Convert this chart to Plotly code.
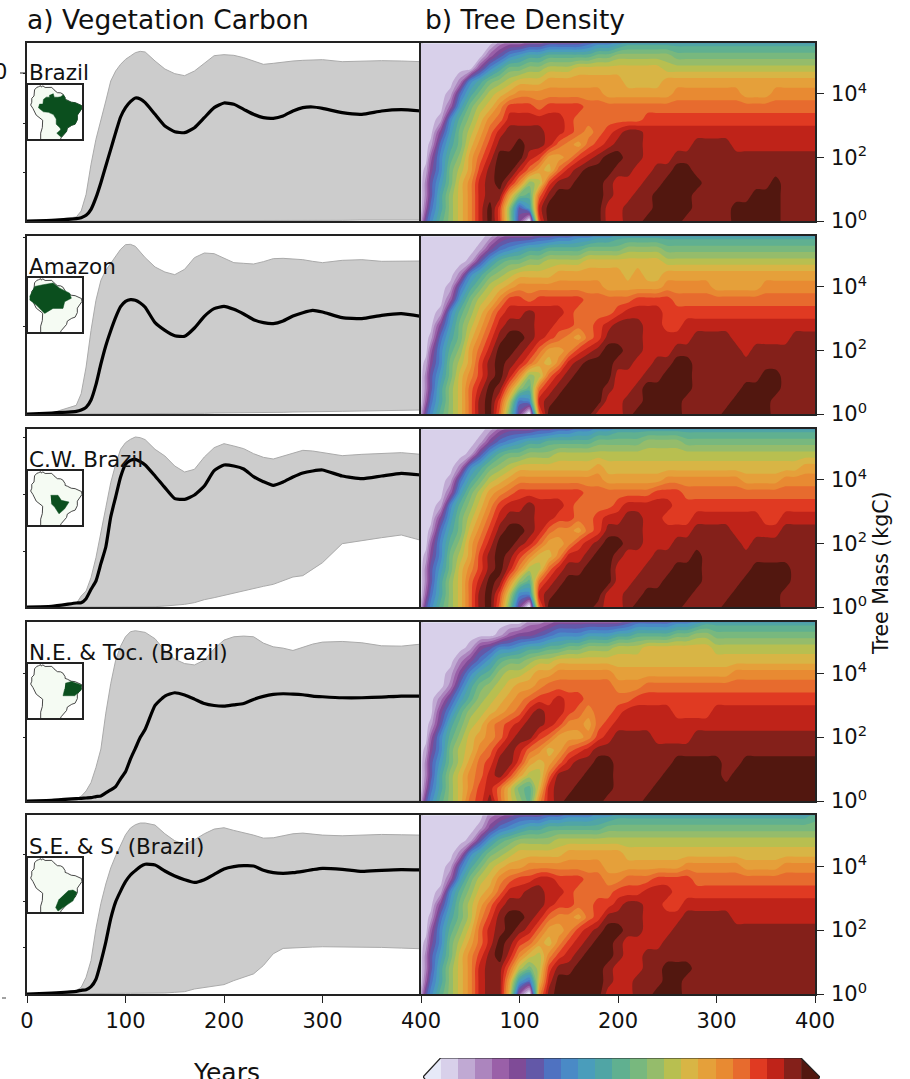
import plotly.graph_objects as go

W, H = 910, 1079
font_family = "DejaVu Sans"

# ---------- left column: years and series (height units above axis floor) ----------
years = [0,25,50,55,60,65,70,75,80,85,90,95,100,105,110,115,120,130,140,150,160,170,180,190,200,210,220,230,240,250,260,270,280,290,300,320,340,360,380,400]

brazil_mean = [0,2,7,10,17,35,70,115,165,215,265,312,340,358,369,366,355,320,285,268,265,280,310,340,354,350,335,320,310,308,315,330,340,342,338,325,320,330,334,330]
brazil_up = [0,3,12,30,80,170,245,300,360,420,450,470,485,495,505,509,507,480,456,442,436,450,472,496,499,497,490,480,470,473,477,480,482,484,484,478,480,481,480,478]
brazil_low = [0,0,0,0,0,0,0,0,0,0,0,0,0,0,0,0,0,1,1,1,1,1,1,1,1,1,1,2,2,2,2,2,2,2,2,2,3,3,3,3]

amazon_mean = [0,3,8,12,20,42,88,150,205,250,290,322,338,343,341,333,320,274,251,235,233,258,293,316,323,314,300,283,274,271,279,294,304,311,306,289,286,296,301,293]
amazon_up = [0,3,26,61,141,251,341,401,431,453,476,494,508,509,503,486,469,441,426,418,434,469,483,481,468,454,452,450,457,466,467,466,463,458,454,461,463,458,459,459]
amazon_low = [0,0,0,0,0,0,0,0,0,0,0,0,0,0,0,0,0,1,1,1,1,2,2,3,3,3,4,4,4,5,5,6,6,6,7,8,9,10,11,12]

cw_mean = [0,2,12,13,25,53,78,130,180,270,330,390,428,440,443,436,426,393,358,325,323,336,363,409,426,423,414,391,376,365,375,390,402,408,411,393,385,393,401,396]
cw_up = [0,2,10,33,48,88,148,218,298,373,428,473,493,503,510,508,502,473,453,423,405,413,450,478,490,483,475,460,449,444,453,461,470,468,464,454,458,461,463,458]
cw_low = [0,0,0,0,0,0,0,0,0,0,0,0,0,0,0,0,0,1,3,5,8,13,22,28,35,43,50,56,62,68,78,90,94,113,133,190,200,208,216,200]

ne_mean = [0,2,7,8,9,10,13,15,24,33,43,66,87,125,157,190,214,285,313,323,316,304,291,285,283,287,291,303,312,318,320,319,317,313,311,308,308,310,313,313]
ne_up = [0,0,7,14,30,55,100,155,262,350,420,462,490,505,508,505,503,484,448,423,410,406,420,454,480,490,492,490,471,460,456,449,458,468,474,476,472,463,462,468]
ne_low = [0]*40

se_mean = [0,3,8,11,13,22,44,95,155,225,275,307,335,355,368,380,387,385,367,352,341,333,341,357,373,380,383,382,369,362,360,362,366,371,375,372,366,369,371,370]
se_up = [0,3,10,20,50,100,195,270,328,376,412,445,475,495,505,510,510,504,478,457,447,460,478,492,496,488,482,474,465,466,472,478,480,476,474,472,475,476,475,474]
se_low = [0,1,1,1,1,1,1,1,1,2,2,2,2,2,2,2,2,2,3,5,7,15,20,25,28,40,50,60,85,120,136,138,139,140,141,141,140,139,137,135]

region_labels = ["Brazil", "Amazon", "C.W. Brazil", "N.E. & Toc. (Brazil)", "S.E. & S. (Brazil)"]
y_ticks = [[147,294,444],[264,531],[168,339,510],[189,381],[138,276,417]]

# ---------- right column: density band index on (year, log10 mass) ----------
dens_years = [0,5,10,20,30,40,50,60,70,80,90,100,110,120,130,140,160,180,200,220,240,260,280,300,320,340,360,380,400]
mid_years = [150,170,190,210,230,250,270,290,310,330,350,370,390]
log_mass = [0,0.4,0.8,1.2,1.6,2.0,2.4,2.8,3.2,3.6,4.0,4.4,4.8,5.2,5.6]

dens_brazil = [
[2,6,8,11,13,15,17,20,22,19,13,5,0,19,22,22,22,22,20,21,22,22,21,21,22,22,22,21,21],
[1,4,7,10,13,15,17,20,22,19,13,6,9,20,22,22,22,22,20,21,22,22,21,21,22,22,22,21,21],
[1,3,6,10,13,15,17,20,21,21,16,12,11,18,21,22,22,22,20,21,22,22,21,21,21,22,22,21,21],
[1,3,6,9,12,15,17,20,21,22,20,17,13,14,19,21,22,22,20,20,21,22,22,21,21,21,22,21,21],
[1,2,5,8,12,14,16,19,21,22,22,20,18,16,15,18,21,22,21,20,21,22,21,21,21,21,21,21,21],
[1,1,4,8,11,13,16,18,20,22,22,22,20,19,16,16,19,21,22,21,20,21,21,21,21,21,21,21,21],
[1,1,2,7,10,12,15,17,19,21,21,22,21,21,20,18,16,19,21,21,20,20,21,21,20,20,20,20,20],
[1,1,1,5,9,12,14,16,18,20,21,21,21,21,20,20,18,18,20,21,20,20,20,20,20,20,20,20,20],
[1,1,1,2,8,11,13,15,17,18,20,20,20,20,20,20,18,18,18,18,19,19,19,19,19,19,19,19,19],
[1,1,1,1,4,9,12,14,15,17,19,19,19,18,19,19,19,18,18,18,18,18,18,18,18,18,18,18,18],
[1,1,1,1,2,7,10,12,14,15,16,17,17,17,17,17,17,17,16,16,16,17,17,17,17,16,17,17,17],
[1,1,1,1,1,3,8,10,12,13,14,15,15,15,16,16,16,16,16,15,15,16,16,16,16,16,16,16,16],
[1,1,1,1,1,1,1,5,8,10,12,12,13,13,14,14,15,15,15,15,15,14,14,14,14,14,14,14,14],
[1,1,1,1,1,1,1,1,4,6,8,9,10,10,11,11,11,12,13,13,13,12,12,12,12,12,12,12,12],
[1,1,1,1,1,1,1,1,1,3,4,4,5,5,6,6,6,8,9,10,10,10,10,10,10,10,10,10,10],
]
dens_brazil_mid = [
[22,22,20,21,22,22,21,21,21,22,22,21,21],
[22,22,20,21,21,22,22,21,21,22,22,21,21],
[22,22,21,20,21,22,22,21,21,21,22,21,21],
[21,22,21,20,21,22,22,21,21,21,21,21,21],
[20,22,22,21,20,21,22,21,21,21,21,21,21],
[17,20,22,21,20,20,21,21,21,21,21,21,21],
[17,18,20,21,20,20,20,21,21,20,20,20,20],
[19,17,19,21,20,20,20,20,20,20,20,20,20],
[19,18,18,18,19,19,19,19,19,19,19,19,19],
[19,18,18,18,18,18,18,18,18,18,18,18,18],
[17,17,16,16,16,16,17,17,17,16,16,17,17],
[16,16,16,15,15,16,16,16,16,16,16,16,16],
[14,15,15,15,15,14,14,14,14,14,14,14,14],
[11,11,12,13,13,13,12,12,12,12,12,12,12],
[6,7,8,10,10,10,10,10,10,10,10,10,10],
]
dens_amazon = [
[2,6,8,11,13,15,18,21,22,18,12,5,0,18,22,22,22,20,20,22,22,22,21,21,22,22,21,21,21],
[1,4,7,10,13,15,18,21,22,19,14,7,8,20,21,22,22,22,20,21,22,22,21,21,22,22,21,21,21],
[1,3,6,10,13,15,18,20,22,21,17,13,11,18,20,21,22,22,20,21,22,22,21,21,21,22,22,21,21],
[1,3,6,9,12,15,17,19,21,22,20,17,13,14,18,20,22,22,20,20,21,22,21,21,21,21,22,21,21],
[1,2,5,8,12,14,16,19,21,22,21,20,18,16,15,17,21,22,21,20,21,22,21,21,21,21,21,21,21],
[1,1,4,8,11,13,16,18,20,22,22,21,20,18,16,16,19,21,22,21,20,21,21,21,21,21,21,21,21],
[1,1,2,7,10,12,15,17,19,21,22,22,21,20,19,18,16,19,21,21,20,20,21,21,20,20,20,21,21],
[1,1,1,5,9,12,14,16,18,20,21,21,21,20,20,19,18,19,21,21,20,19,20,20,20,20,20,20,20],
[1,1,1,2,8,11,13,15,17,19,20,20,21,20,20,20,18,18,19,20,20,19,19,19,19,19,19,19,19],
[1,1,1,1,4,9,12,14,15,17,19,19,18,19,19,19,19,18,18,19,19,18,18,18,18,18,18,18,18],
[1,1,1,1,2,7,10,12,14,15,16,17,17,17,17,17,17,17,16,16,16,17,17,16,16,16,17,17,17],
[1,1,1,1,1,3,8,10,12,13,14,15,15,15,15,16,16,16,16,16,15,16,16,16,16,16,16,16,16],
[1,1,1,1,1,1,2,6,9,11,12,12,13,13,14,14,14,15,15,15,15,14,14,14,14,14,14,14,14],
[1,1,1,1,1,1,1,2,5,7,8,9,10,10,11,11,11,12,12,13,13,12,12,12,12,12,12,12,12],
[1,1,1,1,1,1,1,1,2,4,5,5,5,6,6,7,8,9,10,10,10,10,10,10,10,10,10,10,10],
]
dens_amazon_mid = [
[22,22,20,21,22,22,21,21,22,22,22,21,21],
[22,22,20,21,22,22,21,21,21,22,22,21,21],
[22,22,21,20,22,22,22,21,21,22,22,21,21],
[21,22,22,20,21,22,22,21,21,21,22,21,21],
[20,22,22,21,20,21,22,21,21,21,21,21,21],
[17,20,22,21,20,20,21,21,21,20,21,21,21],
[17,18,21,21,20,20,20,21,21,20,20,20,21],
[19,18,20,21,20,19,20,20,20,20,20,20,20],
[19,18,18,20,20,19,19,19,19,19,19,19,19],
[19,18,18,18,19,19,18,18,18,18,18,18,18],
[17,17,16,16,16,17,17,17,16,16,17,17,17],
[16,16,16,15,15,16,16,16,16,16,16,16,16],
[14,15,15,15,15,14,14,14,14,14,14,14,14],
[11,12,12,13,13,12,12,12,12,12,12,12,12],
[7,8,9,10,10,10,10,10,10,10,10,10,10],
]
dens_cw = [
[2,6,8,11,13,15,18,21,22,18,12,5,0,18,22,22,22,21,20,22,22,22,21,21,22,22,22,21,21],
[1,4,7,10,13,15,18,21,22,19,14,8,8,20,21,22,22,22,20,21,22,22,21,21,22,22,22,21,21],
[1,3,6,10,13,15,18,20,22,21,17,13,11,18,20,21,22,22,20,21,21,22,22,21,21,22,22,21,21],
[1,3,6,9,12,15,17,19,21,22,20,17,14,14,18,20,21,22,20,20,21,22,22,21,21,22,22,21,21],
[1,2,5,8,12,14,16,19,21,22,21,19,17,15,15,17,20,22,21,20,21,21,22,21,21,21,21,21,21],
[1,1,4,8,11,13,16,18,20,22,22,21,20,18,16,16,19,21,22,21,20,21,21,21,21,21,21,21,21],
[1,1,2,7,10,12,15,17,19,21,22,22,21,20,18,17,16,19,21,21,20,20,21,21,20,20,20,21,21],
[1,1,1,5,9,12,14,16,18,20,21,21,21,20,20,19,18,19,20,21,20,19,20,20,20,20,19,20,20],
[1,1,1,2,8,11,13,15,17,19,20,20,21,20,20,20,18,18,19,20,20,19,19,19,19,19,19,19,19],
[1,1,1,1,4,9,12,14,16,17,18,19,19,19,19,19,19,18,18,18,19,19,18,18,18,18,18,18,18],
[1,1,1,1,2,7,10,12,14,15,16,17,17,17,17,17,17,17,16,16,16,17,17,17,17,16,16,17,17],
[1,1,1,1,1,3,8,10,12,13,14,15,15,15,15,15,15,16,15,15,15,15,15,15,15,15,15,15,16],
[1,1,1,1,1,1,2,6,9,11,12,12,13,13,13,14,14,14,14,14,14,14,14,14,14,14,14,14,14],
[1,1,1,1,1,1,1,2,5,7,8,9,10,10,11,11,11,12,12,12,13,13,12,12,12,12,12,12,12],
[1,1,1,1,1,1,1,1,2,4,5,5,5,6,6,7,8,9,10,10,10,10,10,10,10,10,10,10,10],
]
dens_cw_mid = [
[22,22,20,21,22,22,21,21,22,22,22,21,21],
[22,22,20,21,22,22,22,21,21,22,22,21,21],
[22,22,22,20,21,22,22,21,21,22,22,22,21],
[21,22,22,20,21,21,22,21,21,21,22,22,21],
[20,21,22,20,20,21,21,21,21,21,21,21,21],
[17,20,22,21,20,20,21,21,21,20,21,21,21],
[17,18,21,21,20,20,20,21,21,20,20,21,21],
[19,18,20,21,20,19,19,20,20,20,19,20,20],
[19,18,18,20,20,20,19,19,19,19,19,19,19],
[19,18,18,18,18,19,18,18,18,18,18,18,18],
[17,17,16,16,16,17,17,17,17,16,16,17,17],
[15,15,15,15,15,15,15,15,15,15,15,15,16],
[14,14,14,14,14,14,14,14,14,14,14,14,14],
[11,11,12,12,13,13,12,12,12,12,12,12,12],
[7,8,9,10,10,10,10,10,10,10,10,10,10],
]
dens_ne = [
[2,6,8,11,13,15,18,19,21,18,15,13,11,17,20,21,22,22,21,21,22,22,22,22,22,22,22,22,22],
[1,4,7,10,13,15,17,19,20,18,15,12,11,15,20,21,22,22,21,21,22,22,22,22,22,22,22,22,22],
[1,3,6,10,13,15,17,18,20,21,19,16,14,14,18,21,21,22,21,21,21,22,22,22,22,22,22,22,22],
[1,3,6,9,12,14,16,18,19,21,21,19,16,15,16,18,21,22,21,21,21,22,22,22,21,22,22,22,22],
[1,2,5,8,12,14,15,17,18,20,21,20,18,17,15,16,19,21,21,21,21,21,21,21,21,21,21,21,21],
[1,1,4,8,11,13,15,16,17,18,20,21,21,19,18,16,16,19,21,21,20,20,21,21,21,21,21,21,21],
[1,1,2,6,10,12,14,15,17,18,19,20,21,21,20,19,17,18,20,20,20,20,20,20,20,20,20,20,20],
[1,1,1,5,8,11,13,14,15,16,17,18,20,21,20,20,18,18,19,20,20,19,19,20,20,20,20,20,20],
[1,1,1,3,6,9,11,13,14,15,16,17,18,19,19,20,19,18,18,19,19,19,19,19,19,19,19,19,19],
[1,1,1,1,3,7,10,12,13,14,15,16,16,17,18,18,18,18,17,17,18,18,18,18,18,18,18,18,18],
[1,1,1,1,2,5,8,10,11,13,14,14,15,16,16,17,17,17,16,16,16,16,16,16,17,17,17,17,17],
[1,1,1,1,1,3,5,7,9,11,12,12,13,14,14,15,15,15,15,15,15,15,15,15,15,15,15,15,15],
[1,1,1,1,1,1,2,5,6,8,8,9,10,10,11,11,12,13,14,14,15,15,15,14,14,14,14,14,14],
[1,1,1,1,1,1,1,1,1,2,4,5,5,6,7,8,8,9,10,11,11,12,13,12,12,12,12,12,12],
[1,1,1,1,1,1,1,1,1,1,1,1,3,3,4,5,5,5,5,7,7,8,9,10,10,10,10,10,10],
]
dens_ne_mid = [
[22,22,21,21,22,22,22,22,22,22,22,22,22],
[21,22,22,21,21,22,22,22,22,22,22,22,22],
[21,22,22,21,21,22,22,22,21,22,22,22,22],
[20,21,22,21,21,21,22,22,21,22,22,22,22],
[18,20,21,21,21,21,21,21,21,21,21,21,21],
[16,17,20,21,21,20,20,21,21,21,21,21,21],
[17,16,19,20,20,20,20,20,20,20,20,20,20],
[19,17,18,20,20,20,19,19,20,20,20,20,20],
[19,18,18,18,19,19,19,19,19,19,19,19,19],
[18,18,18,17,18,18,18,18,18,18,18,18,18],
[17,17,17,16,16,16,16,16,16,17,17,17,17],
[15,15,15,15,15,15,15,15,15,15,15,15,15],
[12,13,13,14,15,15,15,15,14,14,14,14,14],
[8,9,9,10,11,11,12,13,12,12,12,12,12],
[5,5,5,6,7,7,8,10,10,10,10,10,10],
]
dens_se = [
[2,6,8,11,13,15,17,20,21,21,15,4,0,17,21,22,22,22,20,21,22,22,21,21,21,21,21,21,21],
[1,4,7,10,13,15,17,20,21,21,16,9,7,15,20,22,22,22,20,21,21,22,21,21,21,21,21,21,21],
[1,3,6,10,13,15,17,20,21,21,18,14,12,14,19,21,22,22,20,20,21,22,21,21,21,21,21,21,21],
[1,3,6,9,12,15,17,19,21,22,20,17,15,14,17,19,21,22,21,20,21,21,21,21,21,21,21,21,21],
[1,2,5,8,12,14,16,18,20,22,21,19,18,16,15,17,20,22,21,20,20,21,21,21,21,21,21,21,21],
[1,1,4,8,11,13,15,18,20,21,22,21,20,18,16,16,19,21,22,21,20,21,21,21,21,21,21,21,21],
[1,1,2,7,10,12,14,17,19,21,22,22,21,20,18,17,16,19,21,21,20,20,21,21,20,20,20,20,20],
[1,1,1,5,9,12,14,16,18,20,21,21,21,21,20,19,18,19,20,21,20,19,20,20,20,20,20,20,20],
[1,1,1,2,8,11,13,15,16,18,20,20,21,21,20,20,18,18,19,19,20,19,19,19,19,19,19,19,19],
[1,1,1,1,4,9,12,14,15,17,18,19,19,20,20,19,19,18,17,18,19,19,18,18,18,18,18,18,18],
[1,1,1,1,2,7,10,12,14,15,16,16,17,17,17,17,17,17,16,16,16,16,17,17,17,16,16,17,17],
[1,1,1,1,1,3,8,10,12,13,14,15,15,15,15,15,16,16,16,15,15,15,15,15,15,15,15,15,15],
[1,1,1,1,1,1,2,6,9,11,12,13,13,13,13,14,14,14,14,14,14,14,14,14,14,14,14,14,14],
[1,1,1,1,1,1,1,2,5,7,8,9,10,10,11,11,11,11,12,12,12,12,12,12,12,12,12,12,12],
[1,1,1,1,1,1,1,1,3,4,5,6,6,6,7,7,8,9,10,10,10,10,10,10,10,10,10,10,11],
]
dens_se_mid = [
[22,22,20,20,21,22,21,21,21,21,21,21,21],
[22,22,21,20,21,22,21,21,21,21,21,21,21],
[21,22,21,20,21,22,22,21,21,21,21,21,21],
[20,22,22,20,21,21,21,21,21,21,21,21,21],
[19,21,22,20,20,21,21,21,21,21,21,21,21],
[17,20,22,21,20,20,21,21,21,21,21,21,21],
[17,18,21,21,20,20,21,21,21,20,20,20,20],
[19,18,19,21,20,19,20,20,20,20,20,20,20],
[19,18,18,19,20,20,19,19,19,19,19,19,19],
[19,18,17,18,18,19,19,18,18,18,18,18,18],
[17,17,16,16,16,16,17,17,17,16,16,17,17],
[16,16,16,15,15,15,15,15,15,15,15,15,15],
[14,14,14,14,14,14,14,14,14,14,14,14,14],
[11,11,12,12,12,12,12,12,12,12,12,12,12],
[8,8,9,10,10,10,10,10,10,10,10,10,10],
]

band_colors = ["#E6E9F8","#D8D0EA","#C0A9D3","#AC85BE","#9A60A8","#7F4B97","#6358A8","#4F72C1","#4A8AC6","#4A9DBB","#50A5A5","#60B090","#78B87E","#95BC6B","#B8BF50","#D8B545","#E5A03A","#E88A32","#E76B2E","#E03A22","#BF2319","#84201A","#52170F"]
colorbar_levels = list(range(1, 22))

# ---------- inset maps (lon, lat) ----------
land_lon = [-77.5,-75.5,-74,-72,-71.5,-70,-68,-64,-62,-60,-57,-54,-52,-50,-50,-48,-44.5,-41,-38,-35.2,-34.8,-37,-39,-39,-41,-44,-48,-48.7,-52,-53.5,-55,-72,-72,-70.5,-70.2,-76,-79,-81,-80,-80,-78,-77.5]
land_lat = [8.5,10.7,11.2,12.2,11,12,10.6,10.5,10.7,8.5,6,5.8,4.7,1.5,0,-0.7,-2.5,-2.9,-4,-5.5,-8,-11,-14,-18,-22,-23,-25.5,-28.5,-32,-34,-37,-37,-30,-25,-18.5,-14,-8,-5,-2.5,1,3,8.5]
br_lon = [-60.7,-59.8,-56.5,-54,-51.6,-50,-50,-48,-44.5,-41,-38,-35.2,-34.8,-37,-39,-39,-41,-44,-48,-48.7,-52,-53.5,-57.5,-54,-54.5,-58,-58,-60.5,-65,-69.5,-74,-73,-70,-69.5,-67,-64,-64]
br_lat = [5.2,2,1.9,2.3,4.2,1.5,0,-0.7,-2.5,-2.9,-4,-5.5,-8,-11,-14,-18,-22,-23,-25.5,-28.5,-32,-33.7,-30,-27,-25.5,-22,-17.5,-13.5,-11.5,-11,-7.5,-4.2,-4.2,0,2,2,4]
am_lon = [-81.9,-77.4,-69.9,-60.9,-54.9,-45.9,-44.4,-50.4,-51.9,-60.9,-68.4,-75.9,-81.9]
am_lat = [-3.7,5.3,6.8,8.3,3.8,-0.7,-5.2,-8.2,-14.2,-14.2,-18.7,-11.2,-6.7]
cw_lon = [-63,-56.4,-53.4,-46.5,-50.4,-55.5,-59.4,-62.4]
cw_lat = [-8.8,-8.8,-13.3,-14.8,-20.8,-25.3,-19.3,-16.3]
ne_lon = [-49.8,-44.4,-35.4,-35.4,-41.4,-51.9,-50.4]
ne_lat = [-4.3,-2.8,-5.8,-10.3,-15.4,-15.4,-9.4]
se_lon = [-47.4,-42.9,-39.3,-42.9,-51.9,-56.4,-58.5,-55.5]
se_lat = [-16.3,-15.7,-17.8,-25.3,-31.3,-34.3,-31.3,-23.8]

series = [(brazil_mean,brazil_up,brazil_low),(amazon_mean,amazon_up,amazon_low),(cw_mean,cw_up,cw_low),(ne_mean,ne_up,ne_low),(se_mean,se_up,se_low)]
dens = [(dens_brazil,dens_brazil_mid),(dens_amazon,dens_amazon_mid),(dens_cw,dens_cw_mid),(dens_ne,dens_ne_mid),(dens_se,dens_se_mid)]
regions = [(br_lon,br_lat),(am_lon,am_lat),(cw_lon,cw_lat),(ne_lon,ne_lat),(se_lon,se_lat)]

# merge the two read-off column sets into one table ordered by year
all_years = dens_years + mid_years
order = sorted(range(len(all_years)), key=lambda k: all_years[k])
grid_x = [all_years[k] for k in order]
def merged(main, mid):
    return [[(a + b)[k] for k in order] for a, b in zip(main, mid)]

# ---------- layout geometry in pixels ----------
row_top = [43,236,429,622,815]
row_bot = [221,414,607,801,994]
inset_top = [85,278,471,664,858]
label_y = [72,266,459,652,846]
XL = (27,421); XR = (421,815); XI = (28,82)
dx = lambda p: p / W
dy = lambda p: 1 - p / H

n = len(band_colors)
cscale = []
for i, c in enumerate(band_colors):
    cscale += [[i / n, c], [(i + 1) / n, c]]

spine = dict(showline=True, linecolor="#222222", linewidth=1.5, mirror=True, showgrid=False, zeroline=False, automargin=False)
tick_font = dict(family=font_family, size=21, color="#111111")

fig = go.Figure()
layout = dict(template="none", width=W, height=H, autosize=False, margin=dict(l=0, r=0, t=0, b=0, pad=0),
              paper_bgcolor="white", plot_bgcolor="white", showlegend=False,
              font=dict(family=font_family, color="#111111"))

for i in range(5):
    a = i + 1; b = i + 6; c = i + 11
    an = "" if a == 1 else str(a)
    dom_y = [dy(row_bot[i]), dy(row_top[i])]
    mean, up, low = series[i]
    # left
    fig.add_trace(go.Scatter(x=years, y=low, mode="lines", line=dict(color="#AAAAAA", width=1), xaxis="x"+an, yaxis="y"+an))
    fig.add_trace(go.Scatter(x=years, y=up, mode="lines", line=dict(color="#AAAAAA", width=1), fill="tonexty", fillcolor="#CCCCCC", xaxis="x"+an, yaxis="y"+an))
    fig.add_trace(go.Scatter(x=years, y=mean, mode="lines", line=dict(color="black", width=3.2, shape="spline", smoothing=0.5), xaxis="x"+an, yaxis="y"+an))
    bottom = i == 4
    layout["xaxis"+an] = dict(domain=[dx(XL[0]), dx(XL[1])], range=[0,400], anchor="y"+an, **spine,
                              ticks="outside" if bottom else "", ticklen=7, tickcolor="#222222", tickvals=[0,100,200,300,400] if bottom else [],
                              ticktext=["0","100","200","300","400"] if bottom else [], tickfont=tick_font)
    layout["yaxis"+an] = dict(domain=dom_y, range=[0,534], anchor="x"+an, **spine, ticks="outside", ticklen=2,
                              tickcolor="#222222", tickvals=y_ticks[i], showticklabels=False)
    # right
    fig.add_trace(go.Contour(x=grid_x, y=log_mass, z=merged(*dens[i]), zmin=-0.5, zmax=n-0.5, colorscale=cscale,
                             autocontour=False, contours=dict(coloring="fill", start=-0.5, end=n-0.5, size=1, showlines=False),
                             line=dict(width=0, smoothing=0.9), showscale=False, xaxis=f"x{b}", yaxis=f"y{b}"))
    layout[f"xaxis{b}"] = dict(domain=[dx(XR[0]), dx(XR[1])], range=[0,400], anchor=f"y{b}", **spine,
                               ticks="outside" if bottom else "", ticklen=7, tickcolor="#222222", tickvals=[0,100,200,300,400] if bottom else [],
                               ticktext=["","100","200","300","400"] if bottom else [], tickfont=tick_font)
    layout[f"yaxis{b}"] = dict(domain=dom_y, range=[0,5.606], anchor=f"x{b}", side="right", **spine, ticks="outside", ticklen=7,
                               ticklabelstandoff=3, tickcolor="#222222", tickvals=[0,2,4], ticktext=["10<sup>0</sup>","10<sup>2</sup>","10<sup>4</sup>"], tickfont=tick_font)
    # inset
    fig.add_trace(go.Scatter(x=land_lon, y=land_lat, mode="lines", fill="toself", fillcolor="#F5FBF3", line=dict(color="#333333", width=0.9), xaxis=f"x{c}", yaxis=f"y{c}"))
    fig.add_trace(go.Scatter(x=regions[i][0], y=regions[i][1], mode="lines", fill="toself", fillcolor="#0B4F1E", line=dict(color="#0B4F1E", width=0.5), xaxis=f"x{c}", yaxis=f"y{c}"))
    layout[f"xaxis{c}"] = dict(domain=[dx(XI[0]), dx(XI[1])], range=[-83.4,-34.8], anchor=f"y{c}", showline=True, linecolor="#222222", linewidth=1.6, mirror=True,
                               showgrid=False, zeroline=False, showticklabels=False, ticks="", automargin=False)
    layout[f"yaxis{c}"] = dict(domain=[dy(inset_top[i]+54), dy(inset_top[i])], range=[-35.2,12.8], anchor=f"x{c}", showline=True, linecolor="#222222", linewidth=1.6, mirror=True,
                               showgrid=False, zeroline=False, showticklabels=False, ticks="", automargin=False)

# colorbar (cut by the page bottom as in the reference)
fig.add_trace(go.Heatmap(x=colorbar_levels, y=[0,1], z=[colorbar_levels, colorbar_levels], zmin=-0.5, zmax=n-0.5, colorscale=cscale, showscale=False, xaxis="x16", yaxis="y16"))
fig.add_trace(go.Scatter(x=[0.5,-0.52,-0.4,0.5], y=[1,0.095,0,0], mode="none", fill="toself", fillcolor=band_colors[0], xaxis="x16", yaxis="y16"))
fig.add_trace(go.Scatter(x=[21.5,22.6,22.5,21.5], y=[1,0.095,0,0], mode="none", fill="toself", fillcolor=band_colors[-1], xaxis="x16", yaxis="y16"))
fig.add_trace(go.Scatter(x=[-0.4,-0.52,0.5,21.5,22.6,22.5], y=[0,0.095,1,1,0.095,0], mode="lines", line=dict(color="#222222", width=1.2), xaxis="x16", yaxis="y16"))
layout["xaxis16"] = dict(domain=[dx(423), dx(820)], range=[-0.52,22.6], anchor="y16", visible=False, automargin=False)
layout["yaxis16"] = dict(domain=[0, dy(1058)], range=[0,1], anchor="x16", visible=False, automargin=False)

ann = []
def txt(s, x, y, size, xanchor="left", yanchor="middle", angle=0):
    ann.append(dict(text=s, x=dx(x), y=dy(y), xref="paper", yref="paper", showarrow=False, xanchor=xanchor, yanchor=yanchor,
                    textangle=angle, font=dict(family=font_family, size=size, color="#111111")))
txt("a) Vegetation Carbon", 25, 20, 26.5)
txt("b) Tree Density", 423, 20, 26.5)
for i, s in enumerate(region_labels):
    txt(s, 27, label_y[i], 21.5)
txt("Years", 226, 1056, 25, xanchor="center", yanchor="top")
txt("Tree Mass (kgC)", 881, 573, 20.5, xanchor="center", angle=-90)
txt("0", 9, 72, 21, xanchor="right")
layout["annotations"] = ann
layout["shapes"] = [dict(type="line", xref="paper", yref="paper", x0=dx(20), x1=dx(27), y0=dy(73), y1=dy(73), line=dict(color="#222222", width=1)),
                    dict(type="line", xref="paper", yref="paper", x0=dx(2), x1=dx(6), y0=dy(998), y1=dy(998), line=dict(color="#444444", width=1))]
fig.update_layout(**layout)
fig.write_html("out.html", config=dict(displayModeBar=False),
               post_script="document.body.style.margin='0';document.body.style.overflow='hidden';")
